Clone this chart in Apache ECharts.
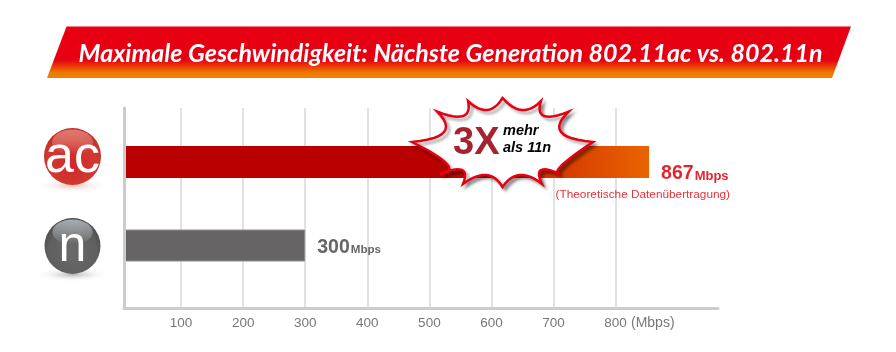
<!DOCTYPE html>
<html>
<head>
<meta charset="utf-8">
<style>html,body{margin:0;padding:0;background:#fff}#c{width:896px;height:352px}</style>
<script src="https://cdn.jsdelivr.net/npm/echarts@6/dist/echarts.min.js"></script>
</head>
<body>
<div id="c"></div>
<script>
const titleText = 'Maximale Geschwindigkeit: Nächste Generation 802.11ac vs. 802.11n';
const categories = ['ac', 'n'];
const barValues = [854, 300];
const labelValues = ['867', '300'];
const unit = 'Mbps';
const tickValues = [100, 200, 300, 400, 500, 600, 700, 800];
const axisUnit = '(Mbps)';
const noteText = '(Theoretische Datenübertragung)';
const burstMain = '3X';
const burstLines = ['mehr', 'als 11n'];

const AX_MIN = 8, AX_MAX = 965;
const font = '"Liberation Sans", Arial, sans-serif';
const LG = echarts.graphic.LinearGradient;
const RG = echarts.graphic.RadialGradient;

const burstTips = [[412,142],[437,111.5],[468,101],[502.5,98],[541,101],[569,111.5],[593,142],[560,174],[542,184],[502.5,187],[463,184],[440,174]];
const burstValleys = [[444,132],[463,116],[487,110],[522,110],[544,116],[561,132],[562,165],[541,170],[520,175],[486,175],[462,170],[447,164]];
function burstPoints() {
  const pts = [];
  burstTips.forEach((t, i) => {
    const n = burstTips[(i + 1) % burstTips.length], v = burstValleys[i];
    const cx = 2 * v[0] - (t[0] + n[0]) / 2, cy = 2 * v[1] - (t[1] + n[1]) / 2;
    for (let k = 0; k < 12; k++) {
      const u = k / 12, w = 1 - u;
      pts.push([w * w * t[0] + 2 * w * u * cx + u * u * n[0], w * w * t[1] + 2 * w * u * cy + u * u * n[1]]);
    }
  });
  return pts;
}

function sphere(cx, cy, r, base, mid, edge, hi, shadow, txt, size, ty) {
  return [
    { type: 'circle', z: 1, originX: cx, originY: cy + r + 0.5, scaleY: 0.2, shape: { cx: cx, cy: cy + r + 0.5, r: r + 9 },
      style: { fill: new RG(0.5, 0.5, 0.5, [{ offset: 0, color: shadow }, { offset: 1, color: 'rgba(255,255,255,0)' }]) } },
    { type: 'circle', z: 2, shape: { cx: cx, cy: cy, r: r },
      style: { fill: new RG(0.5, 0.62, 0.62, [{ offset: 0, color: base }, { offset: 0.7, color: mid }, { offset: 1, color: edge }]) } },
    { type: 'ellipse', z: 3, shape: { cx: cx, cy: cy - r * 0.5, rx: r * 0.72, ry: r * 0.45 },
      style: { fill: new LG(0, 0, 0, 1, [{ offset: 0, color: hi }, { offset: 1, color: 'rgba(255,255,255,0)' }]) } },
    { type: 'text', z: 4, x: cx, y: ty,
      style: { text: txt, fill: '#fff', font: size + 'px ' + font, align: 'center', verticalAlign: 'middle' } }
  ];
}

const graphics = [
  { type: 'polygon', z: 1, shape: { points: [[66.5,26.5],[851,26.5],[832,78],[47,78]] },
    style: { fill: new LG(0, 0, 0, 1, [{ offset: 0, color: '#e60012' }, { offset: 0.65, color: '#e60012' }, { offset: 0.9, color: '#ee7a00' }, { offset: 1, color: '#f08300' }]) } },
  { type: 'text', z: 2, x: 450.5, y: 54,
    style: { text: titleText, fill: '#fff', font: 'italic bold 25px Lato, "Open Sans", sans-serif', align: 'center', verticalAlign: 'middle' } },
  ...sphere(72.5, 156.5, 28.5, '#d4252b', '#cf3a30', '#c22a25', 'rgba(255,215,200,0.45)', 'rgba(215,120,90,0.45)', categories[0], 52, 157.5),
  ...sphere(72.5, 246, 28, '#6a6a6a', '#5f5f5f', '#4a4a4a', 'rgba(225,238,248,0.6)', 'rgba(90,90,90,0.45)', categories[1], 50, 247),
  { type: 'text', z: 5, x: 631, y: 323,
    style: { text: axisUnit, fill: '#777', font: '14px ' + font, align: 'left', verticalAlign: 'middle' } },
  { type: 'text', z: 5, x: 730, y: 194.5,
    style: { text: noteText, fill: '#e5333a', font: '11.8px ' + font, align: 'right', verticalAlign: 'middle' } },
  { type: 'polygon', z: 20, shape: { points: burstPoints() },
    style: { fill: '#fff', stroke: '#e60012', lineWidth: 2.5, shadowColor: 'rgba(0,0,0,0.35)', shadowBlur: 3, shadowOffsetX: 3, shadowOffsetY: 3 } },
  { type: 'text', z: 21, x: 453, y: 144,
    style: { text: burstMain, fill: '#a5232f', font: 'bold 38px ' + font, align: 'left', verticalAlign: 'middle' } },
  { type: 'text', z: 21, x: 503, y: 131,
    style: { text: burstLines[0], fill: '#000', font: 'italic bold 14.5px ' + font, align: 'left', verticalAlign: 'middle' } },
  { type: 'text', z: 21, x: 503, y: 148,
    style: { text: burstLines[1], fill: '#000', font: 'italic bold 14.5px ' + font, align: 'left', verticalAlign: 'middle' } }
];

const itemStyles = [
  { color: new LG(0, 0, 1, 0, [{ offset: 0, color: '#b80000' }, { offset: 0.6, color: '#b80000' }, { offset: 1, color: '#ea6500' }]) },
  { color: '#666464', borderColor: '#8f8f8f', borderWidth: 1 }
];
const labelColors = ['#e3262e', '#666666'];
const unitSizes = [13, 11.6];
const labelOffsets = [[7, 12], [7, 2.5]];

const chart = echarts.init(document.getElementById('c'), null, { renderer: 'canvas' });
chart.setOption({
  animation: false,
  backgroundColor: '#fff',
  grid: [
    { left: 124, top: 108, width: 594, height: 200 },
    { left: 124, top: 120.25, width: 594, height: 167 }
  ],
  xAxis: [
    { type: 'value', gridIndex: 0, min: AX_MIN, max: AX_MAX,
      axisLine: { show: true, lineStyle: { color: '#cccccc', width: 3 } },
      axisTick: { show: false, customValues: tickValues },
      axisLabel: { customValues: tickValues, color: '#777', fontFamily: font, fontSize: 13.5, margin: 8 },
      splitLine: { show: true, lineStyle: { color: '#d9d9d9', width: 1.5 } } },
    { type: 'value', gridIndex: 1, min: AX_MIN, max: AX_MAX, show: false, splitLine: { show: false } }
  ],
  yAxis: [
    { type: 'category', gridIndex: 0, data: categories, inverse: true, z: 6,
      axisLine: { show: true, onZero: false, lineStyle: { color: '#cccccc', width: 3 } },
      axisTick: { show: false }, axisLabel: { show: false }, splitLine: { show: false } },
    { type: 'category', gridIndex: 1, data: categories, inverse: true, show: false }
  ],
  graphic: { elements: graphics },
  series: [{
    type: 'bar', xAxisIndex: 1, yAxisIndex: 1, barWidth: 32, z: 5,
    data: barValues.map((v, i) => ({
      value: v,
      itemStyle: itemStyles[i],
      label: {
        show: true, position: 'right', distance: 5, offset: labelOffsets[i],
        formatter: '{a|' + labelValues[i] + '}{b|' + unit + '}',
        rich: {
          a: { fontFamily: font, fontWeight: 'bold', fontSize: 19.5, color: labelColors[i] },
          b: { fontFamily: font, fontWeight: 'bold', fontSize: unitSizes[i], color: labelColors[i], padding: [4, 0, 0, 1] }
        }
      }
    }))
  }]
});
</script>
</body>
</html>
